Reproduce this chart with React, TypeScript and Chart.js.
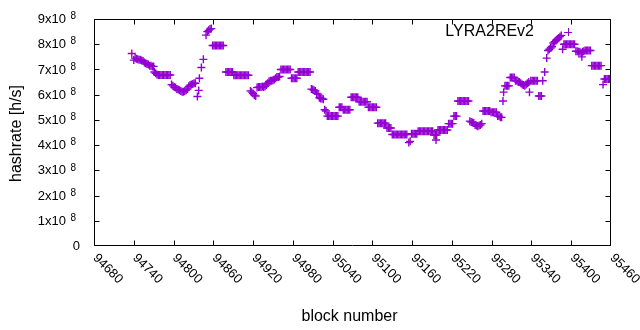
import React, { useEffect, useRef } from 'react';
import { Chart, registerables } from 'chart.js';

Chart.register(...registerables);

// block numbers
const blocks = [
  94737, 94740,
  94742, 94744, 94746, 94748, 94750, 94752, 94754,
  94756, 94758, 94760, 94762,
  94764, 94766, 94768, 94770,
  94771, 94773,
  94775, 94777, 94779, 94781, 94783, 94785, 94787, 94789, 94791, 94793, 94795,
  94797, 94799, 94801, 94803,
  94805, 94807, 94809, 94811, 94813, 94815, 94817, 94819, 94821,
  94823, 94825, 94827, 94829, 94831, 94833,
  94836, 94838, 94839, 94842, 94845,
  94849, 94851, 94853, 94855, 94857,
  94859, 94861, 94863, 94865, 94867, 94869, 94871, 94873, 94875,
  94879, 94881, 94883, 94885, 94887, 94889,
  94891, 94893, 94895, 94897, 94899, 94901, 94903, 94905, 94907, 94909, 94911, 94913,
  94916, 94918, 94920, 94922, 94924,
  94926, 94928, 94930, 94932, 94934, 94936, 94938, 94940, 94942,
  94944, 94946, 94948, 94950, 94952, 94954,
  94956, 94958, 94960,
  94962, 94964, 94966, 94968, 94970, 94972, 94974, 94976,
  94978, 94980, 94982, 94984, 94986,
  94988, 94990, 94992, 94994, 94996, 94998, 95000, 95002, 95004, 95006,
  95008, 95010, 95012, 95014, 95016, 95018, 95020, 95022, 95024, 95026,
  95028, 95030, 95032, 95034, 95036, 95038, 95040, 95042, 95044, 95046, 95048,
  95050, 95052, 95054,
  95056, 95058, 95060, 95062, 95064, 95066,
  95068, 95070, 95072, 95074, 95076, 95078,
  95080, 95082, 95084, 95086, 95088, 95090, 95092,
  95094, 95096, 95098, 95100, 95102, 95104, 95106,
  95108, 95110, 95112, 95114, 95116, 95118, 95120,
  95122, 95124, 95126, 95128,
  95130, 95132, 95134, 95136, 95138, 95140, 95142, 95144, 95146, 95148, 95150, 95152,
  95155, 95157,
  95159, 95161, 95163, 95165, 95167,
  95169, 95171, 95173, 95175, 95177, 95179, 95181, 95183, 95185, 95187, 95189, 95191,
  95193, 95195, 95196, 95197,
  95199, 95201, 95203, 95205, 95207, 95209, 95211, 95213,
  95215, 95217, 95219, 95221,
  95223, 95225, 95227,
  95229, 95231, 95233, 95235, 95237, 95239, 95241, 95243, 95245,
  95247, 95249, 95251, 95253,
  95255, 95257, 95259, 95261, 95263, 95265,
  95267, 95269, 95271, 95273, 95275, 95277,
  95279, 95281, 95283, 95285, 95287,
  95289, 95291, 95293, 95295,
  95297, 95298,
  95300, 95302, 95304, 95306,
  95308, 95310, 95312, 95314,
  95316, 95318, 95320, 95322, 95324, 95326, 95328, 95330, 95332, 95334, 95336,
  95337,
  95339, 95341, 95343, 95345, 95347, 95349,
  95351, 95353, 95355,
  95357, 95360, 95363,
  95365, 95367, 95369, 95371,
  95373, 95375, 95377, 95379,
  95381, 95383, 95385,
  95387,
  95389, 95391, 95393, 95395, 95397, 95399, 95401, 95403, 95405,
  95407, 95409, 95411, 95413, 95415, 95416, 95417, 95419, 95421, 95423, 95425, 95427, 95429,
  95431, 95433, 95435, 95437, 95439, 95441, 95443, 95445,
  95448,
  95450, 95452, 95454, 95456, 95458, 95460,
];

// hashrate, in units of 10^8 h/s
const hashrateE8 = [
  7.63, 7.37,
  7.45, 7.42, 7.40, 7.38, 7.38, 7.35, 7.33,
  7.28, 7.25, 7.22, 7.20,
  7.15, 7.15, 7.12, 7.12,
  6.90, 6.85,
  6.80, 6.78, 6.78, 6.78, 6.78, 6.78, 6.78, 6.78, 6.78, 6.78, 6.78,
  6.40, 6.35, 6.30, 6.28,
  6.22, 6.20, 6.18, 6.15, 6.12, 6.12, 6.15, 6.18, 6.22,
  6.33, 6.38, 6.40, 6.42, 6.45, 6.45,
  5.93, 6.17, 6.65, 7.08, 7.40,
  8.36, 8.50, 8.55, 8.60, 8.62,
  7.95, 7.95, 7.95, 7.95, 7.95, 7.95, 7.95, 7.95, 7.95,
  6.90, 6.90, 6.90, 6.90, 6.90, 6.90,
  6.77, 6.77, 6.77, 6.77, 6.77, 6.77, 6.77, 6.77, 6.77, 6.77, 6.77, 6.77,
  6.15, 6.10, 6.05, 5.98, 5.95,
  6.28, 6.30, 6.30, 6.30, 6.32, 6.30, 6.33, 6.38, 6.45,
  6.52, 6.55, 6.55, 6.57, 6.60, 6.65,
  6.70, 6.70, 6.72,
  7.00, 7.00, 7.00, 7.00, 7.00, 7.00, 7.00, 7.00,
  6.65, 6.65, 6.65, 6.65, 6.65,
  6.90, 6.90, 6.90, 6.90, 6.90, 6.90, 6.90, 6.90, 6.90, 6.90,
  6.22, 6.20, 6.18, 6.15, 6.05, 6.02, 5.88, 5.85, 5.85, 5.82,
  5.40, 5.35, 5.15, 5.15, 5.15, 5.15, 5.15, 5.15, 5.15, 5.15, 5.15,
  5.50, 5.50, 5.50,
  5.40, 5.40, 5.40, 5.40, 5.40, 5.40,
  5.90, 5.90, 5.90, 5.90, 5.90, 5.90,
  5.72, 5.72, 5.72, 5.72, 5.72, 5.72, 5.72,
  5.50, 5.50, 5.50, 5.50, 5.50, 5.50, 5.50,
  4.87, 4.87, 4.87, 4.87, 4.87, 4.87, 4.87,
  4.68, 4.68, 4.68, 4.68,
  4.42, 4.42, 4.42, 4.42, 4.42, 4.42, 4.42, 4.42, 4.42, 4.42, 4.42, 4.42,
  4.10, 4.15,
  4.45, 4.45, 4.45, 4.45, 4.45,
  4.55, 4.55, 4.55, 4.55, 4.55, 4.55, 4.55, 4.55, 4.55, 4.55, 4.55, 4.55,
  4.40, 4.40, 4.20, 4.40,
  4.60, 4.60, 4.60, 4.60, 4.60, 4.60, 4.60, 4.60,
  4.85, 4.85, 4.85, 4.85,
  5.15, 5.15, 5.15,
  5.75, 5.75, 5.75, 5.75, 5.75, 5.75, 5.75, 5.75, 5.75,
  4.95, 4.92, 4.90, 4.88,
  4.80, 4.78, 4.75, 4.78, 4.80, 4.85,
  5.35, 5.35, 5.35, 5.35, 5.35, 5.35,
  5.30, 5.30, 5.30, 5.30, 5.30,
  5.15, 5.15, 5.10, 5.10,
  5.75, 6.10,
  6.35, 6.35, 6.35, 6.35,
  6.68, 6.68, 6.68, 6.68,
  6.55, 6.55, 6.50, 6.50, 6.45, 6.40, 6.38, 6.35, 6.40, 6.45, 6.50,
  6.10,
  6.55, 6.55, 6.55, 6.55, 6.55, 6.55,
  5.95, 5.95, 5.95,
  6.55, 6.90, 7.45,
  7.75, 7.80, 7.85, 7.90,
  8.05, 8.10, 8.15, 8.20,
  8.25, 8.30, 8.35,
  7.80,
  8.00, 8.00, 8.00, 8.00, 8.00, 8.00, 8.00, 8.00, 8.00,
  7.72, 7.72, 7.70, 7.70, 7.65, 7.50, 7.70, 7.72, 7.75, 7.75, 7.75, 7.75, 7.75,
  7.15, 7.15, 7.15, 7.15, 7.15, 7.15, 7.15, 7.15,
  6.40,
  6.62, 6.62, 6.62, 6.62, 6.62, 6.62,
];

const xTickValues = [94680, 94740, 94800, 94860, 94920, 94980, 95040, 95100, 95160, 95220, 95280, 95340, 95400, 95460];
const xTickLabels = ['94680', '94740', '94800', '94860', '94920', '94980', '95040', '95100', '95160', '95220', '95280', '95340', '95400', '95460'];
const yTickValues = [0, 1e8, 2e8, 3e8, 4e8, 5e8, 6e8, 7e8, 8e8, 9e8];
const yTickLabels = ['0', '1x10^8', '2x10^8', '3x10^8', '4x10^8', '5x10^8', '6x10^8', '7x10^8', '8x10^8', '9x10^8'];

const seriesName = 'LYRA2REv2';
const xTitle = 'block number';
const yTitle = 'hashrate [h/s]';

const COLOR = '#9400D3';
const FONT = '"Liberation Sans", Arial, sans-serif';

const framePlugin = {
  id: 'gnuplotFrame',
  afterDraw(chart: any) {
    const { ctx, chartArea: a, scales } = chart;
    const xs = scales.x;
    const ys = scales.y;
    ctx.save();
    ctx.strokeStyle = '#000';
    ctx.lineWidth = 1;
    const L = Math.round(a.left) + 0.5;
    const R = Math.round(a.right) - 0.5;
    const T = Math.round(a.top) + 0.5;
    const B = Math.round(a.bottom) - 0.5;
    ctx.beginPath();
    ctx.rect(L, T, R - L, B - T);
    ctx.stroke();
    const tick = 5;
    ctx.beginPath();
    xTickValues.forEach((v) => {
      const p = Math.min(R, Math.max(L, Math.round(xs.getPixelForValue(v)) + 0.5));
      ctx.moveTo(p, B);
      ctx.lineTo(p, B - tick);
      ctx.moveTo(p, T);
      ctx.lineTo(p, T + tick);
    });
    yTickValues.forEach((v) => {
      const p = Math.min(B, Math.max(T, Math.round(ys.getPixelForValue(v)) + 0.5));
      ctx.moveTo(L, p);
      ctx.lineTo(L + tick, p);
      ctx.moveTo(R, p);
      ctx.lineTo(R - tick, p);
    });
    ctx.stroke();

    ctx.fillStyle = '#000';
    // y tick labels
    yTickValues.forEach((v, i) => {
      const y = ys.getPixelForValue(v);
      const lab = yTickLabels[i];
      const parts = lab.split('^');
      ctx.textBaseline = 'middle';
      if (parts.length === 1) {
        ctx.font = `13px ${FONT}`;
        ctx.textAlign = 'right';
        ctx.fillText(parts[0], 80, y + 0.5);
      } else {
        ctx.font = `13px ${FONT}`;
        ctx.textAlign = 'right';
        ctx.fillText(parts[0], 66, y + 0.5);
        ctx.font = `10px ${FONT}`;
        ctx.textAlign = 'left';
        ctx.fillText(parts[1], 70.5, y - 2.5);
      }
    });
    // x tick labels (rotated)
    ctx.font = `13px ${FONT}`;
    xTickValues.forEach((v, i) => {
      const x = xs.getPixelForValue(v);
      ctx.save();
      ctx.translate(x + 1, 256);
      ctx.rotate(Math.PI / 4);
      ctx.textAlign = 'left';
      ctx.textBaseline = 'middle';
      ctx.fillText(xTickLabels[i], 0, 0);
      ctx.restore();
    });
    // axis titles
    ctx.font = `16px ${FONT}`;
    ctx.textAlign = 'center';
    ctx.textBaseline = 'alphabetic';
    ctx.fillText(xTitle, (a.left + a.right) / 2 - 3, 320.5);
    ctx.save();
    ctx.translate(17, (a.top + a.bottom) / 2 + 1);
    ctx.rotate(-Math.PI / 2);
    ctx.textBaseline = 'middle';
    ctx.fillText(yTitle, 0, 0);
    ctx.restore();
    // key
    ctx.textAlign = 'right';
    ctx.textBaseline = 'middle';
    ctx.fillText(seriesName, 534, 32);
    ctx.strokeStyle = COLOR;
    ctx.beginPath();
    ctx.moveTo(564, 32.5);
    ctx.lineTo(572, 32.5);
    ctx.moveTo(568.5, 28);
    ctx.lineTo(568.5, 36);
    ctx.stroke();
    ctx.restore();
  },
};

export default function App() {
  const ref = useRef<HTMLCanvasElement | null>(null);
  useEffect(() => {
    if (!ref.current) return;
    const data = blocks.map((b, i) => ({ x: b, y: hashrateE8[i] * 1e8 }));
    const chart = new Chart(ref.current, {
      type: 'scatter',
      data: {
        datasets: [
          {
            label: seriesName,
            data,
            pointStyle: 'cross',
            pointRadius: 4,
            pointHoverRadius: 4,
            pointBorderWidth: 1.4,
            borderColor: COLOR,
            backgroundColor: COLOR,
          },
        ],
      },
      options: {
        responsive: false,
        animation: false,
        layout: { padding: { left: 94, right: 29, top: 19, bottom: 84 } },
        plugins: { legend: { display: false }, tooltip: { enabled: false } },
        events: [],
        scales: {
          x: { type: 'linear', display: false, min: 94680, max: 95460 },
          y: { type: 'linear', display: false, min: 0, max: 9e8 },
        },
      },
      plugins: [framePlugin],
    });
    return () => chart.destroy();
  }, []);
  return (
    <div style={{ position: 'fixed', left: 0, top: 0, width: 640, height: 330, background: '#fff' }}>
      <canvas ref={ref} width={640} height={330} style={{ display: 'block' }} />
    </div>
  );
}
